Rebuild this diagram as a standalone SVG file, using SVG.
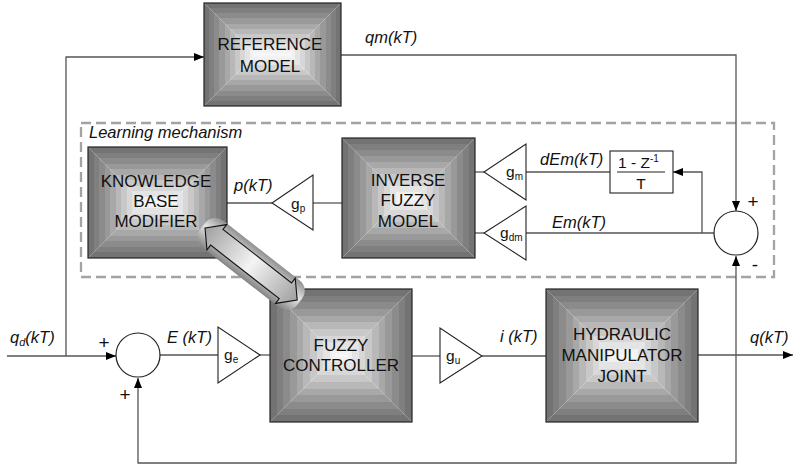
<svg xmlns="http://www.w3.org/2000/svg" width="793" height="470" viewBox="0 0 793 470">
<style>
.ln{fill:none;stroke:#555;stroke-width:1.3}
.tri{fill:#fff;stroke:#222;stroke-width:1.1}
.sum{fill:#fff;stroke:#222;stroke-width:1.2}
.bx{fill:none;stroke:#222;stroke-width:1.2}
.gt{fill:url(#gT)}.gb{fill:url(#gB)}.gl{fill:url(#gL)}.gr{fill:url(#gR)}
.bl{font-family:"Liberation Sans",Arial,sans-serif;font-size:17px;text-anchor:middle;fill:#111}
.it{font-family:"Liberation Sans",Arial,sans-serif;font-style:italic;font-size:16.5px;fill:#111}
.tx{font-family:"Liberation Sans",Arial,sans-serif;font-size:15.5px;fill:#111}
.sg{font-family:"Liberation Sans",Arial,sans-serif;font-size:19px;text-anchor:middle;fill:#111}
.sb{font-size:10px}
</style>
<defs>
<linearGradient id="band">
<stop offset="0" stop-color="#737373"/><stop offset="0.1" stop-color="#737373"/>
<stop offset="0.1" stop-color="#7f7f7f"/><stop offset="0.2" stop-color="#7f7f7f"/>
<stop offset="0.2" stop-color="#8b8b8b"/><stop offset="0.3" stop-color="#8b8b8b"/>
<stop offset="0.3" stop-color="#999"/><stop offset="0.4" stop-color="#999"/>
<stop offset="0.4" stop-color="#a8a8a8"/><stop offset="0.5" stop-color="#a8a8a8"/>
<stop offset="0.5" stop-color="#b8b8b8"/><stop offset="0.6" stop-color="#b8b8b8"/>
<stop offset="0.6" stop-color="#c8c8c8"/><stop offset="0.7" stop-color="#c8c8c8"/>
<stop offset="0.7" stop-color="#d7d7d7"/><stop offset="0.8" stop-color="#d7d7d7"/>
<stop offset="0.8" stop-color="#e4e4e4"/><stop offset="0.9" stop-color="#e4e4e4"/>
<stop offset="0.9" stop-color="#efefef"/><stop offset="1" stop-color="#f6f6f6"/>
</linearGradient>
<linearGradient id="gT" href="#band" x1="0" y1="0" x2="0" y2="1"/>
<linearGradient id="gB" href="#band" x1="0" y1="1" x2="0" y2="0"/>
<linearGradient id="gL" href="#band" x1="0" y1="0" x2="1" y2="0"/>
<linearGradient id="gR" href="#band" x1="1" y1="0" x2="0" y2="0"/>
<linearGradient id="halo" x1="0" y1="0" x2="0" y2="1">
<stop offset="0" stop-color="#909090"/><stop offset="0.45" stop-color="#e6e6e6"/><stop offset="1" stop-color="#858585"/>
</linearGradient>
<linearGradient id="arrf" x1="0" y1="0" x2="1" y2="0">
<stop offset="0" stop-color="#a0a0a0"/><stop offset="0.5" stop-color="#f4f4f4"/><stop offset="1" stop-color="#a0a0a0"/>
</linearGradient>
<marker id="ah" markerWidth="10" markerHeight="8" refX="10" refY="4" orient="auto" markerUnits="userSpaceOnUse">
<path d="M0,0 L10,4 L0,8 z" fill="#000"/>
</marker>
</defs>

<rect x="0" y="0" width="793" height="470" fill="#fff"/>

<g id="learning-mechanism">
<rect x="81" y="123" width="693" height="154" fill="none" stroke="#a3a3a3" stroke-width="2.3" stroke-dasharray="10,5"/>
<text class="it" x="89" y="138">Learning mechanism</text>
</g>

<g id="connectors">
<polyline class="ln" points="7,356 116,356" marker-end="url(#ah)"/>
<polyline class="ln" points="66,356 66,57 204,57" marker-end="url(#ah)"/>
<polyline class="ln" points="341,55 736,55 736,211" marker-end="url(#ah)"/>
<line class="ln" x1="160" y1="355" x2="218" y2="355"/>
<line class="ln" x1="260" y1="355" x2="270" y2="355"/>
<line class="ln" x1="412" y1="356" x2="440" y2="356"/>
<line class="ln" x1="482" y1="356" x2="546" y2="356"/>
<polyline class="ln" points="698,355 793,355" marker-end="url(#ah)"/>
<polyline class="ln" points="736,355 736,463 138,463 138,378" marker-end="url(#ah)"/>
<polyline class="ln" points="736,355 736,256" marker-end="url(#ah)"/>
<line class="ln" x1="714" y1="233" x2="526" y2="233"/>
<polyline class="ln" points="702,233 702,172 673,172" marker-end="url(#ah)"/>
<line class="ln" x1="610" y1="172" x2="526" y2="172"/>
<line class="ln" x1="484" y1="172" x2="475" y2="172"/>
<line class="ln" x1="484" y1="233" x2="475" y2="233"/>
<line class="ln" x1="342" y1="203" x2="313" y2="203"/>
<line class="ln" x1="272" y1="203" x2="227" y2="203"/>
</g>

<g id="reference-model">
<polygon class="gt" points="204,3 341,3 289.5,54.5 255.5,54.5"/>
<polygon class="gb" points="204,106 341,106 289.5,54.5 255.5,54.5"/>
<polygon class="gl" points="204,3 255.5,54.5 204,106"/>
<polygon class="gr" points="341,3 289.5,54.5 341,106"/>
<rect class="bx" x="204" y="3" width="137" height="103"/>
<text class="bl" x="270" y="50">REFERENCE</text>
<text class="bl" x="270" y="72">MODEL</text>
</g>

<g id="knowledge-base-modifier">
<polygon class="gt" points="88,147 227,147 171.5,202.5 143.5,202.5"/>
<polygon class="gb" points="88,258 227,258 171.5,202.5 143.5,202.5"/>
<polygon class="gl" points="88,147 143.5,202.5 88,258"/>
<polygon class="gr" points="227,147 171.5,202.5 227,258"/>
<rect class="bx" x="88" y="147" width="139" height="111"/>
<text class="bl" x="156" y="187">KNOWLEDGE</text>
<text class="bl" x="156" y="207">BASE</text>
<text class="bl" x="156" y="227">MODIFIER</text>
</g>

<g id="inverse-fuzzy-model">
<polygon class="gt" points="342,138 475,138 415,198 402,198"/>
<polygon class="gb" points="342,258 475,258 415,198 402,198"/>
<polygon class="gl" points="342,138 402,198 342,258"/>
<polygon class="gr" points="475,138 415,198 475,258"/>
<rect class="bx" x="342" y="138" width="133" height="120"/>
<text class="bl" x="408" y="186">INVERSE</text>
<text class="bl" x="408" y="206">FUZZY</text>
<text class="bl" x="408" y="227">MODEL</text>
</g>

<g id="fuzzy-controller">
<polygon class="gt" points="270,289 412,289 345.5,355.5 336.5,355.5"/>
<polygon class="gb" points="270,422 412,422 345.5,355.5 336.5,355.5"/>
<polygon class="gl" points="270,289 336.5,355.5 270,422"/>
<polygon class="gr" points="412,289 345.5,355.5 412,422"/>
<rect class="bx" x="270" y="289" width="142" height="133"/>
<text class="bl" x="341" y="351">FUZZY</text>
<text class="bl" x="341" y="371">CONTROLLER</text>
</g>

<g id="hydraulic-manipulator-joint">
<polygon class="gt" points="546,289 698,289 631.5,355.5 612.5,355.5"/>
<polygon class="gb" points="546,422 698,422 631.5,355.5 612.5,355.5"/>
<polygon class="gl" points="546,289 612.5,355.5 546,422"/>
<polygon class="gr" points="698,289 631.5,355.5 698,422"/>
<rect class="bx" x="546" y="289" width="152" height="133"/>
<text class="bl" x="622" y="340">HYDRAULIC</text>
<text class="bl" x="622" y="361">MANIPULATOR</text>
<text class="bl" x="622" y="382">JOINT</text>
</g>

<g id="kb-fc-link" transform="translate(205,228) rotate(38)">
<rect x="-3" y="-17" width="123" height="34" rx="13" fill="url(#halo)"/>
<polygon points="0,0 15,-16 15,-10 102,-10 102,-16 117,0 102,16 102,10 15,10 15,16" fill="url(#arrf)" stroke="#111" stroke-width="1.1"/>
</g>

<g id="gain-p">
<polygon class="tri" points="272,203 313,175 313,230"/>
<text class="tx" x="291" y="209">g<tspan class="sb" dy="3">p</tspan></text>
</g>
<g id="gain-m">
<polygon class="tri" points="484,172 526,144 526,200"/>
<text class="tx" x="506" y="177">g<tspan class="sb" dy="3">m</tspan></text>
</g>
<g id="gain-dm">
<polygon class="tri" points="484,233 526,206 526,260"/>
<text class="tx" x="500" y="238">g<tspan class="sb" dy="3">dm</tspan></text>
</g>
<g id="gain-e">
<polygon class="tri" points="218,327 218,383 260,355"/>
<text class="tx" x="224" y="360">g<tspan class="sb" dy="3">e</tspan></text>
</g>
<g id="gain-u">
<polygon class="tri" points="440,328 440,383 482,356"/>
<text class="tx" x="446" y="361">g<tspan class="sb" dy="3">u</tspan></text>
</g>

<g id="difference">
<rect x="610" y="151" width="63" height="42" fill="#fff" stroke="#222" stroke-width="1.1"/>
<line x1="617" y1="172" x2="665" y2="172" stroke="#222" stroke-width="1.1"/>
<text class="tx" x="618" y="168" font-size="16.5">1 - Z<tspan class="sb" dy="-6">-1</tspan></text>
<text class="tx" x="641" y="189" font-size="16.5" text-anchor="middle">T</text>
</g>

<g id="sum-error">
<circle class="sum" cx="138" cy="355" r="22"/>
<text class="sg" x="104" y="349">+</text>
<text class="sg" x="125" y="401">+</text>
</g>
<g id="sum-model">
<circle class="sum" cx="736" cy="233" r="22"/>
<text class="sg" x="753" y="208">+</text>
<text class="sg" x="755" y="271">-</text>
</g>

<g id="labels">
<text class="it" x="365" y="43">qm(kT)</text>
<text class="it" x="540" y="165">dEm(kT)</text>
<text class="it" x="552" y="228">Em(kT)</text>
<text class="it" x="234" y="191">p(kT)</text>
<text class="it" x="167" y="343">E (kT)</text>
<text class="it" x="500" y="342">i (kT)</text>
<text class="it" x="750" y="343">q(kT)</text>
<text class="it" x="10" y="343">q<tspan font-size="11" dy="3">d</tspan><tspan dy="-3">(kT)</tspan></text>
</g>
</svg>
